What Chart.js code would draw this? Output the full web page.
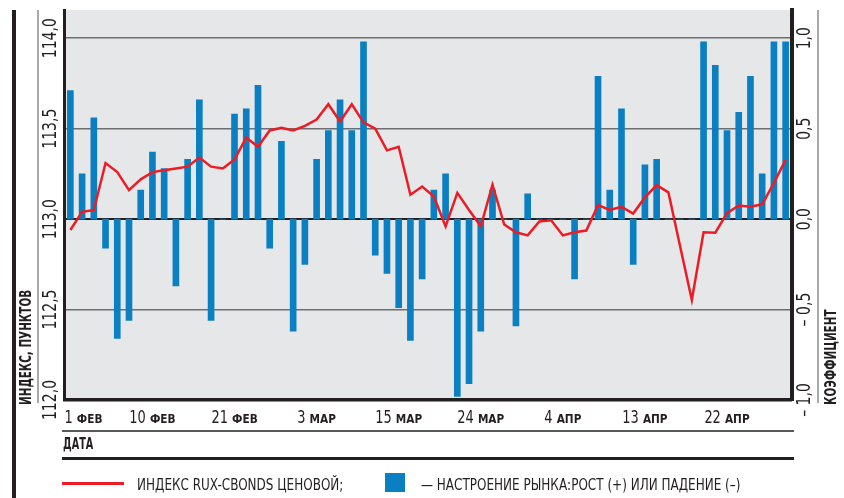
<!DOCTYPE html>
<html lang="ru">
<head>
<meta charset="utf-8">
<title>Индекс RUX-Cbonds ценовой и настроение рынка</title>
<script src="https://cdn.jsdelivr.net/npm/chart.js@4.4.1/dist/chart.umd.min.js"></script>
<style>
  html, body { margin: 0; padding: 0; background: #fff; }
  #wrap {
    position: relative; width: 844px; height: 498px; overflow: hidden;
    font-family: "Liberation Sans Narrow", "DejaVu Sans Condensed", Roboto, sans-serif;
    color: #231f20;
  }
  #wrap canvas { position: absolute; left: 0; top: 0; }
  .rule { position: absolute; }
  .txt {
    position: absolute; white-space: nowrap; font-size: 15px; line-height: 15px;
    transform-origin: left top; transform: scaleX(0.89);
  }
</style>
</head>
<body>
<div id="wrap">
  <canvas id="chart" width="844" height="498"></canvas>
  <div class="rule" style="left:12px;top:10px;width:3.5px;height:488px;background:#231f20"></div>
  <div class="rule" style="left:37px;top:10px;width:2px;height:393px;background:#a7a9ac"></div>
  <div class="rule" style="left:817px;top:10px;width:2px;height:393px;background:#a7a9ac"></div>
  <div class="rule" style="left:62px;top:430px;width:732px;height:1.5px;background:#58595b"></div>
  <div class="txt" style="left:63px;top:437px;font-weight:bold;transform:scaleX(0.72)">ДАТА</div>
  <div class="rule" style="left:62px;top:456.5px;width:732px;height:3.5px;background:#231f20"></div>
  <div class="rule" style="left:62px;top:482px;width:62px;height:3px;background:#ed1c24"></div>
  <div class="txt" style="left:137px;top:478px">ИНДЕКС RUX-CBONDS ЦЕНОВОЙ;</div>
  <div class="rule" style="left:385px;top:473px;width:20px;height:19px;background:#0a80c3"></div>
  <div class="txt" style="left:421px;top:478px">— НАСТРОЕНИЕ РЫНКА:РОСТ (+) ИЛИ ПАДЕНИЕ (–)</div>
</div>
<script>
// торговые дни, февраль-апрель
const dates = [
  '1 ФЕВ', '2 ФЕВ', '3 ФЕВ', '4 ФЕВ', '7 ФЕВ', '8 ФЕВ', '9 ФЕВ', '10 ФЕВ', '11 ФЕВ', '14 ФЕВ',
  '15 ФЕВ', '16 ФЕВ', '17 ФЕВ', '18 ФЕВ', '21 ФЕВ', '22 ФЕВ', '24 ФЕВ', '25 ФЕВ', '28 ФЕВ',
  '1 МАР', '2 МАР', '3 МАР', '4 МАР', '7 МАР', '9 МАР', '10 МАР', '11 МАР', '14 МАР', '15 МАР',
  '16 МАР', '17 МАР', '18 МАР', '21 МАР', '22 МАР', '23 МАР', '24 МАР', '25 МАР', '28 МАР',
  '29 МАР', '30 МАР', '31 МАР',
  '1 АПР', '4 АПР', '5 АПР', '6 АПР', '7 АПР', '8 АПР', '11 АПР', '12 АПР', '13 АПР', '14 АПР',
  '15 АПР', '18 АПР', '19 АПР', '20 АПР', '21 АПР', '22 АПР', '25 АПР', '26 АПР', '27 АПР',
  '28 АПР', '29 АПР'
];
const tickDates = ['1 ФЕВ', '10 ФЕВ', '21 ФЕВ', '3 МАР', '15 МАР', '24 МАР', '4 АПР', '13 АПР', '22 АПР'];

// индекс RUX-Cbonds ценовой, пунктов
const indexValues = [
  112.94, 113.04, 113.05, 113.31, 113.26, 113.16, 113.22, 113.26, 113.27, 113.28,
  113.29, 113.34, 113.29, 113.28, 113.33, 113.45, 113.40, 113.49, 113.505, 113.49,
  113.515, 113.55, 113.635, 113.54, 113.635, 113.535, 113.50, 113.38, 113.40, 113.135,
  113.18, 113.125, 112.96, 113.145, 113.05, 112.96, 113.19, 112.97, 112.927, 112.91,
  112.987, 112.994, 112.91, 112.927, 112.937, 113.077, 113.051, 113.068, 113.031, 113.12,
  113.188, 113.148, 112.85, 112.553, 112.927, 112.925, 113.033, 113.075, 113.069, 113.082,
  113.2, 113.328
];

// настроение рынка, коэффициент
const moodValues = [
  0.71, 0.25, 0.56, -0.16, -0.66, -0.56, 0.16, 0.37, 0.28, -0.37,
  0.33, 0.66, -0.56, 0, 0.58, 0.61, 0.74, -0.16, 0.43, -0.62,
  -0.25, 0.33, 0.49, 0.66, 0.49, 0.98, -0.20, -0.30, -0.49, -0.67,
  -0.33, 0.16, 0.25, -0.98, -0.91, -0.62, 0.16, 0, -0.59, 0.14,
  0, 0, 0, -0.33, 0, 0.79, 0.16, 0.61, -0.25, 0.30,
  0.33, 0, 0, 0, 0.98, 0.85, 0.49, 0.59, 0.79, 0.25,
  0.98, 0.98
];

const indexTicks = [112, 112.5, 113, 113.5, 114];
const moodTicks = [-1, -0.5, 0, 0.5, 1];

const FONT = '"Liberation Sans Narrow", "DejaVu Sans Condensed", Roboto, sans-serif';
const INK = '#231f20';

function fmt(v) {
  const s = Math.abs(v).toFixed(1).replace('.', ',');
  return v < 0 ? '– ' + s : s;
}

// текст, сжатый по горизонтали (k), с поворотом на 90° при rotate = true
function drawText(ctx, text, x, y, k, rotate, align) {
  const w = ctx.measureText(text).width * k;
  let dx = 0;
  if (align === 'center') dx = -w / 2;
  ctx.save();
  ctx.translate(x, y);
  if (rotate) ctx.rotate(-Math.PI / 2);
  ctx.scale(k, 1);
  ctx.textAlign = 'left';
  ctx.fillText(text, dx / k, 0);
  ctx.restore();
  return w;
}

const plotBackground = {
  id: 'plotBackground',
  beforeDraw(chart) {
    const { ctx, chartArea: a } = chart;
    ctx.save();
    ctx.fillStyle = '#e6e7e8';
    ctx.fillRect(a.left, a.top, a.right - a.left, a.bottom - a.top);
    ctx.restore();
  }
};

// подписи осей: повёрнутые числа слева и справа, даты снизу
const axisText = {
  id: 'axisText',
  afterDraw(chart) {
    const { ctx, chartArea: a, scales } = chart;
    ctx.save();
    ctx.fillStyle = INK;
    ctx.textBaseline = 'middle';

    ctx.font = '19px ' + FONT;
    indexTicks.forEach(v => drawText(ctx, fmt(v), 51.5, scales.y.getPixelForValue(v), 0.82, true, 'center'));
    moodTicks.forEach(v => drawText(ctx, fmt(v), 805, scales.y2.getPixelForValue(v), 0.82, true, 'center'));

    ctx.font = 'bold 15px ' + FONT;
    drawText(ctx, 'ИНДЕКС, ПУНКТОВ', 27.5, 405, 0.77, true, 'left');
    drawText(ctx, 'КОЭФФИЦИЕНТ', 832, 405, 0.77, true, 'left');

    ctx.textBaseline = 'alphabetic';
    tickDates.forEach(label => {
      const [day, month] = label.split(' ');
      ctx.font = '18px ' + FONT;
      const wDay = ctx.measureText(day + ' ').width * 0.8;
      ctx.font = 'bold 13px ' + FONT;
      const wMonth = ctx.measureText(month).width * 0.9;
      let x = scales.x.getPixelForValue(dates.indexOf(label)) - (wDay + wMonth) / 2;
      x = Math.max(x, a.left);
      ctx.font = '18px ' + FONT;
      drawText(ctx, day, x, 423, 0.8, false, 'left');
      ctx.font = 'bold 13px ' + FONT;
      drawText(ctx, month, x + wDay, 423, 0.9, false, 'left');
    });
    ctx.restore();
  }
};

new Chart(document.getElementById('chart'), {
  type: 'bar',
  data: {
    labels: dates,
    datasets: [
      {
        type: 'line',
        label: 'Индекс RUX-Cbonds ценовой',
        data: indexValues,
        yAxisID: 'y',
        borderColor: '#ed1c24',
        borderWidth: 2.5,
        pointRadius: 0,
        tension: 0,
        fill: false,
        order: 0
      },
      {
        type: 'bar',
        label: 'Настроение рынка',
        data: moodValues,
        yAxisID: 'y2',
        backgroundColor: '#0a80c3',
        barThickness: 6,
        order: 1
      }
    ]
  },
  options: {
    responsive: false,
    animation: false,
    layout: { padding: { left: 64.5, right: 52.5, top: 10, bottom: 98 } },
    plugins: {
      legend: { display: false },
      tooltip: { enabled: false }
    },
    scales: {
      x: {
        grid: { display: false, drawTicks: false },
        ticks: { display: false },
        border: { color: INK, width: 3.5 }
      },
      y: {
        position: 'left',
        min: 112,
        max: 114.156,
        afterBuildTicks: s => { s.ticks = indexTicks.map(v => ({ value: v })); },
        ticks: { display: false },
        grid: {
          drawTicks: false,
          color: c => c.tick.value === 113 ? INK : (c.tick.value === 112 ? 'rgba(0,0,0,0)' : '#6d6e71'),
          lineWidth: c => c.tick.value === 113 ? 2 : 1.5
        },
        border: { color: INK, width: 3 }
      },
      y2: {
        position: 'right',
        min: -1,
        max: 1.156,
        ticks: { display: false },
        grid: { display: false, drawTicks: false },
        border: { color: INK, width: 4 }
      }
    }
  },
  plugins: [plotBackground, axisText]
});
</script>
</body>
</html>
